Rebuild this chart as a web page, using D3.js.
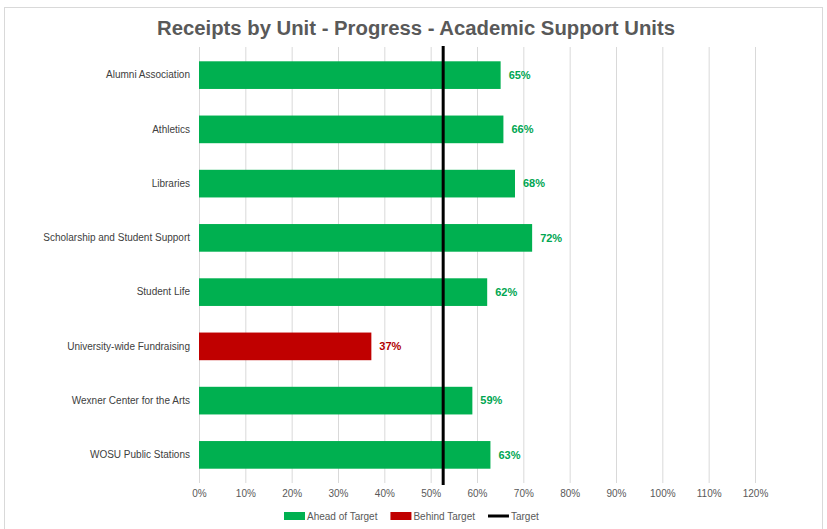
<!DOCTYPE html>
<html><head><meta charset="utf-8">
<script src="https://cdn.jsdelivr.net/npm/d3@7"></script>
<style>body{margin:0;background:#fff}svg{display:block;font-family:"Liberation Sans",Arial,sans-serif}</style>
</head><body><svg id="c" width="827" height="529"></svg>
<script>
const categories = ["Alumni Association","Athletics","Libraries","Scholarship and Student Support","Student Life","University-wide Fundraising","Wexner Center for the Arts","WOSU Public Stations"];
const values = [0.651, 0.657, 0.682, 0.719, 0.622, 0.372, 0.590, 0.629];
const target = 0.527;
const xTicks = [0,0.1,0.2,0.3,0.4,0.5,0.6,0.7,0.8,0.9,1.0,1.1,1.2];
const legendLabels = ["Ahead of Target","Behind Target","Target"];
const title = "Receipts by Unit - Progress - Academic Support Units";
const GREEN = "#00b050", RED = "#c00000";

const svg = d3.select("#c");
svg.append("rect").attr("x",4.5).attr("y",7.5).attr("width",818).attr("height",525).attr("fill","#fff").attr("stroke","#d9d9d9");

const x = d3.scaleLinear().domain([0,1.2]).range([199,755]);
const y = d3.scaleBand().domain(categories).range([48,482]).paddingInner(0.49).paddingOuter(0.245);

svg.append("text").attr("x",416).attr("y",35).attr("text-anchor","middle")
  .attr("font-size",20).attr("font-weight","bold").attr("fill","#595959")
  .attr("textLength",518).attr("lengthAdjust","spacingAndGlyphs").text(title);

// grid
svg.append("g").selectAll("line").data(xTicks).join("line")
  .attr("x1",d=>x(d)+0.5).attr("x2",d=>x(d)+0.5).attr("y1",47).attr("y2",483)
  .attr("stroke","#d9d9d9").attr("stroke-width",1);

// x axis labels
const xa = svg.append("g").attr("transform","translate(0,483)")
  .call(d3.axisBottom(x).tickValues(xTicks).tickFormat(d3.format(".0%")).tickSize(0).tickPadding(7));
xa.select(".domain").remove();
xa.selectAll("text").attr("font-size",10).attr("fill","#595959").attr("font-family","Liberation Sans, Arial, sans-serif");

// y labels
const ya = svg.append("g").attr("transform","translate(199,0)")
  .call(d3.axisLeft(y).tickSize(0).tickPadding(9));
ya.select(".domain").remove();
ya.selectAll("text").attr("font-size",10).attr("fill","#404040").attr("font-family","Liberation Sans, Arial, sans-serif");

const data = categories.map((c,i)=>({c, v:values[i], ahead: values[i]>=target}));

svg.append("g").selectAll("rect").data(data).join("rect")
  .attr("x",x(0)).attr("y",d=>y(d.c)).attr("width",d=>x(d.v)-x(0)).attr("height",y.bandwidth())
  .attr("fill",d=>d.ahead?GREEN:RED);

svg.append("g").selectAll("text").data(data).join("text")
  .attr("x",d=>x(d.v)+8).attr("y",d=>y(d.c)+y.bandwidth()/2).attr("dy","0.35em")
  .attr("font-size",11).attr("font-weight","bold")
  .attr("fill",d=>d.ahead?"#00a651":"#b00000")
  .text(d=>d3.format(".0%")(d.v));

// target line
svg.append("line").attr("x1",x(target)).attr("x2",x(target)).attr("y1",46).attr("y2",485)
  .attr("stroke","#000").attr("stroke-width",3);

// legend
const lg = svg.append("g").attr("font-size",10).attr("fill","#595959");
let lx = 284; const ly = 516;
legendLabels.forEach((t,i)=>{
  if(i<2){
    lg.append("rect").attr("x",lx).attr("y",ly-4).attr("width",21).attr("height",8).attr("fill",i===0?GREEN:RED);
  } else {
    lg.append("line").attr("x1",lx).attr("x2",lx+21).attr("y1",ly).attr("y2",ly).attr("stroke","#000").attr("stroke-width",3);
  }
  const tx = lg.append("text").attr("x",lx+23).attr("y",ly).attr("dy","0.35em").text(t);
  const w = tx.node().getComputedTextLength();
  lx = lx + 23 + w + 13;
});
</script></body></html>
